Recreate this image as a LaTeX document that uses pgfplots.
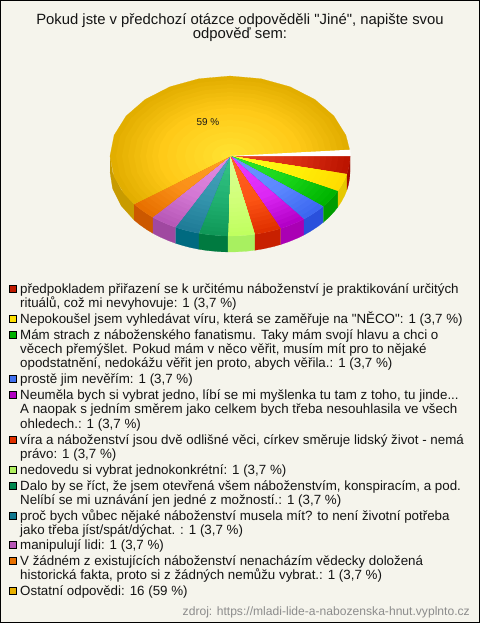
\documentclass[border=0pt]{standalone}
\usepackage{fontspec}
\setmainfont{Liberation Sans}[Ligatures=TeXOff]
\usepackage{pgfplots}
\pgfplotsset{compat=1.18}
\definecolor{bg}{HTML}{F5F4EC}
% edge / middle / centre of the top faces, walls, keys
\definecolor{e1}{HTML}{BC1400}\definecolor{m1}{HTML}{D82C12}\definecolor{c1}{HTML}{EC4828}\definecolor{s1}{HTML}{A00A00}\definecolor{k1}{HTML}{C01A00}
\definecolor{e2}{HTML}{FFDC00}\definecolor{m2}{HTML}{FFF008}\definecolor{c2}{HTML}{FFFF28}\definecolor{s2}{HTML}{E6C800}\definecolor{k2}{HTML}{FFE000}
\definecolor{e3}{HTML}{00B400}\definecolor{m3}{HTML}{18D418}\definecolor{c3}{HTML}{34E834}\definecolor{s3}{HTML}{009C00}\definecolor{k3}{HTML}{00B000}
\definecolor{e4}{HTML}{3C68F0}\definecolor{m4}{HTML}{5C88FF}\definecolor{c4}{HTML}{7098FF}\definecolor{s4}{HTML}{2A50DC}\definecolor{k4}{HTML}{4070F0}
\definecolor{e5}{HTML}{B400C8}\definecolor{m5}{HTML}{DC28F4}\definecolor{c5}{HTML}{EC40FF}\definecolor{s5}{HTML}{AA00B4}\definecolor{k5}{HTML}{B000C0}
\definecolor{e6}{HTML}{E03000}\definecolor{m6}{HTML}{FC5414}\definecolor{c6}{HTML}{FF6428}\definecolor{s6}{HTML}{C82000}\definecolor{k6}{HTML}{E03000}
\definecolor{e7}{HTML}{C0FF60}\definecolor{m7}{HTML}{D0FF78}\definecolor{c7}{HTML}{DCFF98}\definecolor{s7}{HTML}{A8F060}\definecolor{k7}{HTML}{B0F060}
\definecolor{e8}{HTML}{109858}\definecolor{m8}{HTML}{20B070}\definecolor{c8}{HTML}{38C888}\definecolor{s8}{HTML}{007A40}\definecolor{k8}{HTML}{008850}
\definecolor{e9}{HTML}{207C98}\definecolor{m9}{HTML}{3494AC}\definecolor{c9}{HTML}{4CA8C0}\definecolor{s9}{HTML}{006A80}\definecolor{k9}{HTML}{107890}
\definecolor{e10}{HTML}{B858B8}\definecolor{m10}{HTML}{D478D4}\definecolor{c10}{HTML}{E490E4}\definecolor{s10}{HTML}{A048A0}\definecolor{k10}{HTML}{B858B8}
\definecolor{e11}{HTML}{E87000}\definecolor{m11}{HTML}{FA9018}\definecolor{c11}{HTML}{FFA028}\definecolor{s11}{HTML}{CC5800}\definecolor{k11}{HTML}{E87000}
\definecolor{e12}{HTML}{E2AE00}\definecolor{m12}{HTML}{FFCA18}\definecolor{c12}{HTML}{FFE434}\definecolor{s12}{HTML}{C89B00}\definecolor{k12}{HTML}{E8B000}
\pgfplotsset{pie/.style={table/x expr=230+120*\thisrow{r}*cos(\thisrow{a}),
  table/y expr=156-80*\thisrow{r}*sin(\thisrow{a})+16*\thisrow{d}}}
% a nested part of a slice: scale, colour, rows
\newcommand{\ring}[3]{\addplot[fill=#2,draw=#2,line width=0.15pt] table[row sep=\\,
  x expr=230+120*#1*\thisrow{r}*cos(\thisrow{a}),y expr=156-80*#1*\thisrow{r}*sin(\thisrow{a})]{a r\\ 0 0\\ #3};}
% rows, number
\newcommand{\slice}[2]{%
  \pgfplotsinvokeforeach{100,87.5,75,62.5,50,37.5,25,12.5}{\ring{(0.6+##1*0.004)}{e#2!##1!m#2}{#1}}%
  \pgfplotsinvokeforeach{100,87.5,75,62.5,50,37.5,25,12.5}{\ring{(##1*0.006)}{m#2!##1!c#2}{#1}}}
\newcommand{\wall}[5]{%
  \addplot[pie,fill=#5,draw=#5,line width=0.2pt] table[row sep=\\]{a r d\\ #1 1 0\\ #2 1 0\\ #3 1 0\\ #4 1 0\\ #4 1 1\\ #3 1 1\\ #2 1 1\\ #1 1 1\\};}
\newcommand{\key}[2]{%
  \addplot[only marks,mark=square*,mark size=3.6bp,mark options={fill=#1,draw=black,line width=0.7pt}] coordinates {(13,#2)};}
\newcommand{\lin}[2]{\node[anchor=base west,inner sep=0pt,text=black!92] at (axis cs:20,#1+4.6) {\fontsize{13.4}{15}\selectfont #2};}
\begin{document}
\begin{tikzpicture}
\begin{axis}[scale only axis,width=480bp,height=623bp,xmin=0,xmax=480,ymin=0,ymax=623,y dir=reverse,hide axis,clip=true]
\addplot[fill=black,draw=none] coordinates {(0,0)(480,0)(480,623)(0,623)};
\addplot[fill=bg,draw=none] coordinates {(1,1)(479,1)(479,622)(1,622)};
% walls
\wall{180}{192}{205}{217}{s12}
\wall{217}{221}{226}{230}{s11}
\wall{230}{234}{239}{243}{s10}
\wall{243}{247}{251}{255}{s9}
\wall{255}{259}{265}{269}{s8}
\wall{269}{273}{278}{282}{s7}
\wall{282}{286}{291}{295}{s6}
\wall{295}{299}{304}{308}{s5}
\wall{308}{312}{317}{321}{s4}
\wall{321}{325}{330}{334}{s3}
\wall{334}{338}{343}{347}{s2}
\wall{347}{351}{356}{360}{s1}
% faces
\slice{347 1\\ 351 1\\ 356 1\\ 360 1\\}{1}
\slice{334 1\\ 338 1\\ 343 1\\ 347 1\\}{2}
\slice{321 1\\ 325 1\\ 330 1\\ 334 1\\}{3}
\slice{308 1\\ 312 1\\ 317 1\\ 321 1\\}{4}
\slice{295 1\\ 299 1\\ 304 1\\ 308 1\\}{5}
\slice{282 1\\ 286 1\\ 291 1\\ 295 1\\}{6}
\slice{269 1\\ 273 1\\ 278 1\\ 282 1\\}{7}
\slice{255 1\\ 259 1\\ 265 1\\ 269 1\\}{8}
\slice{243 1\\ 247 1\\ 251 1\\ 255 1\\}{9}
\slice{230 1\\ 234 1\\ 239 1\\ 243 1\\}{10}
\slice{217 1\\ 221 1\\ 226 1\\ 230 1\\}{11}
\slice{4.5 1\\ 15 1\\ 30 1\\ 45 1\\ 60 1\\ 75 1\\ 90 1\\ 105 1\\ 120 1\\ 135 1\\ 150 1\\ 165 1\\ 180 1\\ 195 1\\ 208 1\\ 217 1\\}{12}
\addplot[pie,fill=white,draw=none] table[row sep=\\]{a r d\\ 0 0 0\\ 0 1.005 0\\ 2.25 1.005 0\\ 4.5 1.005 0\\};
\node[inner sep=0pt,text=black!90] at (axis cs:208,122) {\fontsize{10}{12}\selectfont 59 \%};
% title
\node[inner sep=0pt,text=black!92] at (axis cs:240,21) {\fontsize{14.9}{15}\selectfont Pokud jste v předchozí otázce odpověděli "Jiné", napište svou};
\node[inner sep=0pt,text=black!92] at (axis cs:240,35) {\fontsize{14.9}{15}\selectfont odpověď sem:};
% legend
\key{k1}{289}\key{k2}{319}\key{k3}{335}\key{k4}{379}\key{k5}{395}\key{k6}{440}\key{k7}{470}\key{k8}{486}\key{k9}{516}\key{k10}{545}\key{k11}{561}\key{k12}{591}
\lin{289}{předpokladem přiřazení se k určitému náboženství je praktikování určitých}
\lin{303}{rituálů, což mi nevyhovuje: 1 (3,7 \%)}
\lin{319}{Nepokoušel jsem vyhledávat víru, která se zaměřuje na "NĚCO": 1 (3,7 \%)}
\lin{335}{Mám strach z náboženského fanatismu. Taky mám svojí hlavu a chci o}
\lin{349}{věcech přemýšlet. Pokud mám v něco věřit, musím mít pro to nějaké}
\lin{363}{opodstatnění, nedokážu věřit jen proto, abych věřila.: 1 (3,7 \%)}
\lin{379}{prostě jim nevěřím: 1 (3,7 \%)}
\lin{395}{Neuměla bych si vybrat jedno, líbí se mi myšlenka tu tam z toho, tu jinde...}
\lin{409}{A naopak s jedním směrem jako celkem bych třeba nesouhlasila ve všech}
\lin{424}{ohledech.: 1 (3,7 \%)}
\lin{440}{víra a náboženství jsou dvě odlišné věci, církev směruje lidský život - nemá}
\lin{454}{právo: 1 (3,7 \%)}
\lin{470}{nedovedu si vybrat jednokonkrétní: 1 (3,7 \%)}
\lin{486}{Dalo by se říct, že jsem otevřená všem náboženstvím, konspiracím, a pod.}
\lin{500}{Nelíbí se mi uznávání jen jedné z možností.: 1 (3,7 \%)}
\lin{516}{proč bych vůbec nějaké náboženství musela mít? to není životní potřeba}
\lin{530}{jako třeba jíst/spát/dýchat. : 1 (3,7 \%)}
\lin{545}{manipulují lidi: 1 (3,7 \%)}
\lin{561}{V žádném z existujících náboženství nenacházím vědecky doložená}
\lin{575}{historická fakta, proto si z žádných nemůžu vybrat.: 1 (3,7 \%)}
\lin{591}{Ostatní odpovědi: 16 (59 \%)}
\node[anchor=base east,inner sep=0pt,text=black!45] at (axis cs:470,615) {\fontsize{12.15}{14}\selectfont zdroj: https://mladi-lide-a-nabozenska-hnut.vyplnto.cz};
\end{axis}
\end{tikzpicture}
\end{document}
